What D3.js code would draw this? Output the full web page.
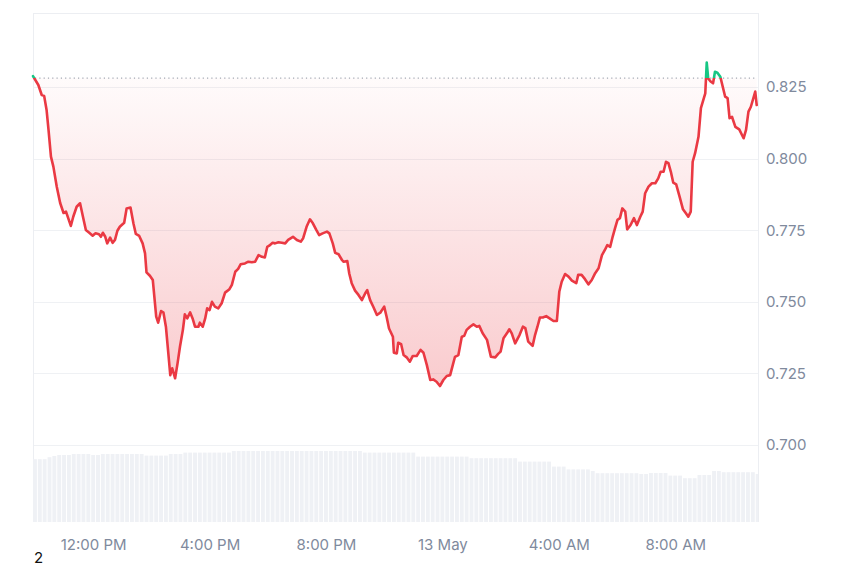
<!DOCTYPE html>
<html><head><meta charset="utf-8">
<script src="https://cdn.jsdelivr.net/npm/d3@7"></script>
<style>html,body{margin:0;padding:0;background:#fff;} svg{display:block;}</style>
</head><body>
<svg id="chart" width="850" height="567"></svg>
<script>
// ---- data ----
const startTime = new Date(2024, 4, 12, 9, 56);
const minutes = [
  0,11,18,23,28,32,37,42,49,56,
  63,68,78,83,90,97,103,109,116,123,
  129,136,140,144,149,153,159,164,169,174,
  179,188,193,201,207,212,219,226,231,234,
  241,247,254,258,264,269,274,279,283,287,
  293,298,303,309,313,318,324,329,334,341,
  344,350,355,359,364,369,375,382,389,396,
  405,410,417,423,428,437,444,451,458,465,
  472,478,483,487,494,499,506,513,520,526,
  536,544,552,557,564,571,577,584,590,597,
  606,611,618,623,630,637,640,648,652,657,
  664,671,678,685,689,695,702,709,716,724,
  729,734,742,744,750,753,759,764,771,777,
  783,791,799,805,812,819,825,832,839,846,
  853,860,865,870,877,884,889,894,901,908,
  915,920,927,936,944,953,959,964,970,977,
  982,987,994,1003,1010,1015,1021,1030,1035,1040,
  1045,1051,1058,1065,1073,1080,1085,1090,1097,1104,
  1111,1120,1124,1131,1138,1145,1152,1159,1166,1173,
  1179,1184,1190,1195,1200,1205,1210,1215,1221,1225,
  1232,1239,1245,1252,1257,1262,1269,1276,1283,1289,
  1294,1300,1305,1310,1315,1320,1326,1333,1340,1346,
  1351,1356,1360,1365,1372,1377,1382,1386,1389,1392,
  1397,1402,1406,1411,1417,1422,1427,1432,1436,1441,
  1448,1456,1465,1470,1475,1480,1489,1492
];
const prices = [
  .8288,.8257,.8222,.8219,.8170,.8100,.8007,.7972,.7902,.7845,
  .7810,.7815,.7765,.7797,.7832,.7844,.7797,.7751,.7741,.7731,
  .7739,.7736,.7727,.7741,.7727,.7704,.7724,.7706,.7716,.7748,
  .7762,.7776,.7826,.7829,.7774,.7737,.7730,.7704,.7669,.7603,
  .7591,.7576,.7448,.7427,.7468,.7462,.7413,.7320,.7244,.7268,
  .7233,.7285,.7343,.7402,.7456,.7442,.7463,.7442,.7413,.7413,
  .7427,.7413,.7442,.7477,.7471,.7500,.7483,.7477,.7495,.7532,
  .7544,.7559,.7605,.7615,.7631,.7634,.7640,.7638,.7640,.7663,
  .7657,.7655,.7692,.7696,.7706,.7704,.7708,.7706,.7704,.7716,
  .7727,.7716,.7710,.7722,.7762,.7788,.7774,.7751,.7733,.7739,
  .7745,.7739,.7704,.7671,.7666,.7646,.7640,.7642,.7599,.7565,
  .7539,.7524,.7506,.7530,.7541,.7506,.7481,.7454,.7462,.7483,
  .7448,.7407,.7378,.7322,.7320,.7357,.7352,.7314,.7305,.7291,
  .7311,.7311,.7332,.7322,.7279,.7227,.7229,.7221,.7206,.7227,
  .7241,.7244,.7276,.7308,.7314,.7378,.7381,.7402,.7413,.7421,
  .7413,.7416,.7390,.7367,.7308,.7306,.7318,.7326,.7373,.7390,
  .7404,.7390,.7355,.7384,.7413,.7408,.7361,.7346,.7384,.7413,
  .7445,.7445,.7450,.7442,.7433,.7433,.7535,.7570,.7597,.7588,
  .7574,.7565,.7594,.7594,.7579,.7561,.7576,.7600,.7617,.7663,
  .7681,.7698,.7692,.7727,.7757,.7786,.7792,.7826,.7815,.7753,
  .7768,.7792,.7768,.7797,.7815,.7879,.7902,.7914,.7914,.7931,
  .7954,.7954,.7989,.7984,.7954,.7916,.7910,.7867,.7823,.7809,
  .7797,.7815,.7989,.8019,.8076,.8176,.8205,.8228,.8335,.8280,
  .8269,.8263,.8303,.8300,.8286,.8251,.8216,.8211,.8141,.8146,
  .8111,.8102,.8071,.8100,.8164,.8181,.8234,.8187
];
const baselinePrice = 0.8281;
const volumeStepMinutes = 10;
const volumes = [
  314,314,314,324,330,335,335,335,340,340,
  340,340,335,335,340,340,340,340,340,340,
  340,340,340,332,332,332,332,332,340,340,
  340,347,347,347,347,347,347,347,347,347,
  347,355,355,355,355,355,355,355,355,355,
  355,355,355,355,355,355,355,355,355,355,
  355,355,355,355,355,355,355,355,347,347,
  347,347,347,347,347,347,347,347,347,327,
  327,327,327,327,327,327,327,327,327,327,
  319,319,319,319,319,319,319,319,319,319,
  302,302,302,302,302,302,302,277,277,277,
  263,263,263,263,263,255,244,244,244,244,
  244,244,244,244,244,240,240,245,245,245,
  245,232,232,232,219,219,219,235,235,235,
  255,255,249,249,249,249,249,249,249,240
];
const yTicks = [0.700, 0.725, 0.750, 0.775, 0.800, 0.825];
const xTickTimes = [
  new Date(2024,4,12,12,0), new Date(2024,4,12,16,0), new Date(2024,4,12,20,0),
  new Date(2024,4,13,0,0), new Date(2024,4,13,4,0), new Date(2024,4,13,8,0)
];
const xTickLabels = ["12:00 PM", "4:00 PM", "8:00 PM", "13 May", "4:00 AM", "8:00 AM"];
const cornerLabel = "2";

// ---- drawing ----
const L = 33, R = 758, T = 13, B = 522;
const RED = "#ea3943", GREEN = "#16c784";
const FONT = "Inter, 'Noto Sans', sans-serif";

const svg = d3.select("#chart");
const data = minutes.map((m, i) => ({ t: new Date(startTime.getTime() + m * 60000), v: prices[i] }));

const x = d3.scaleTime().domain(d3.extent(data, d => d.t)).range([L, 756.7]);
const y = d3.scaleLinear().domain([0.700, 0.825]).range([445, 87]);
const yv = d3.scaleLinear().domain([0, 355]).range([B, 451]);
const yBase = y(baselinePrice);

const defs = svg.append("defs");
defs.append("clipPath").attr("id", "plotClip").append("rect")
  .attr("x", L).attr("y", T).attr("width", R - L).attr("height", B - T);
defs.append("clipPath").attr("id", "belowClip").append("rect")
  .attr("x", L - 5).attr("y", yBase).attr("width", R - L + 10).attr("height", B - yBase);
defs.append("clipPath").attr("id", "aboveClip").append("rect")
  .attr("x", L - 5).attr("y", 0).attr("width", R - L + 10).attr("height", yBase);

const gRed = defs.append("linearGradient").attr("id", "redFill")
  .attr("gradientUnits", "userSpaceOnUse").attr("x1", 0).attr("x2", 0)
  .attr("y1", yBase).attr("y2", y(d3.min(prices)));
gRed.append("stop").attr("offset", 0).attr("stop-color", RED).attr("stop-opacity", 0.02);
gRed.append("stop").attr("offset", 1).attr("stop-color", RED).attr("stop-opacity", 0.26);
const gGreen = defs.append("linearGradient").attr("id", "greenFill")
  .attr("gradientUnits", "userSpaceOnUse").attr("x1", 0).attr("x2", 0)
  .attr("y1", y(d3.max(prices))).attr("y2", yBase);
gGreen.append("stop").attr("offset", 0).attr("stop-color", GREEN).attr("stop-opacity", 0.15);
gGreen.append("stop").attr("offset", 1).attr("stop-color", GREEN).attr("stop-opacity", 0.02);

// grid lines
svg.append("g").selectAll("line").data(yTicks).join("line")
  .attr("x1", L).attr("x2", R)
  .attr("y1", d => Math.round(y(d)) + 0.5).attr("y2", d => Math.round(y(d)) + 0.5)
  .attr("stroke", "#eff1f4").attr("stroke-width", 1);

// frame (top, left, right)
const frame = svg.append("g").attr("stroke", "#eceef2").attr("stroke-width", 1);
frame.append("line").attr("x1", L).attr("x2", R).attr("y1", T + 0.5).attr("y2", T + 0.5);
frame.append("line").attr("x1", L + 0.5).attr("x2", L + 0.5).attr("y1", T).attr("y2", B);
frame.append("line").attr("x1", R + 0.5).attr("x2", R + 0.5).attr("y1", T).attr("y2", B);

// volume bars
const barW = volumeStepMinutes * 60000 * (x.range()[1] - x.range()[0]) / (x.domain()[1] - x.domain()[0]);
svg.append("g").attr("clip-path", "url(#plotClip)")
  .selectAll("rect").data(volumes).join("rect")
  .attr("x", (d, i) => x(new Date(startTime.getTime() + i * volumeStepMinutes * 60000)))
  .attr("y", d => yv(d))
  .attr("width", barW * 0.8)
  .attr("height", d => B - yv(d))
  .attr("fill", "#eff1f5");

// area fills
const area = d3.area().x(d => x(d.t)).y0(yBase).y1(d => y(d.v));
svg.append("path").datum(data).attr("d", area)
  .attr("fill", "url(#redFill)").attr("clip-path", "url(#belowClip)");
svg.append("path").datum(data).attr("d", area)
  .attr("fill", "url(#greenFill)").attr("clip-path", "url(#aboveClip)");

// baseline dotted
svg.append("line").attr("x1", L + 2).attr("x2", R - 2)
  .attr("y1", yBase).attr("y2", yBase)
  .attr("stroke", "#a3a9b3").attr("stroke-width", 1.2)
  .attr("stroke-dasharray", "1.2,3.1");

// price line
const line = d3.line().x(d => x(d.t)).y(d => y(d.v));
svg.append("path").datum(data).attr("d", line)
  .attr("fill", "none").attr("stroke", RED).attr("stroke-width", 2.6)
  .attr("stroke-linejoin", "round").attr("stroke-linecap", "round")
  .attr("clip-path", "url(#belowClip)");
svg.append("path").datum(data).attr("d", line)
  .attr("fill", "none").attr("stroke", GREEN).attr("stroke-width", 2.6)
  .attr("stroke-linejoin", "round").attr("stroke-linecap", "round")
  .attr("clip-path", "url(#aboveClip)");

// y axis (right)
const yAxis = svg.append("g").attr("transform", `translate(766,0)`)
  .call(d3.axisRight(y).tickValues(yTicks).tickFormat(d3.format(".3f")).tickSize(0).tickPadding(0));
yAxis.select(".domain").remove();
yAxis.attr("font-family", FONT).attr("font-size", 15);
yAxis.selectAll("text").attr("fill", "#808a9d");

// x axis
const xAxis = svg.append("g").attr("transform", `translate(0,550)`)
  .call(d3.axisBottom(x).tickValues(xTickTimes).tickFormat((d, i) => xTickLabels[i]).tickSize(0).tickPadding(0));
xAxis.select(".domain").remove();
xAxis.attr("font-family", FONT).attr("font-size", 15);
xAxis.selectAll("text").attr("fill", "#808a9d").attr("y", 0).attr("dy", 0);

// corner label
svg.append("text").attr("x", 34).attr("y", 563)
  .attr("font-family", FONT).attr("font-size", 15).attr("fill", "#111")
  .text(cornerLabel);
</script>
</body></html>
